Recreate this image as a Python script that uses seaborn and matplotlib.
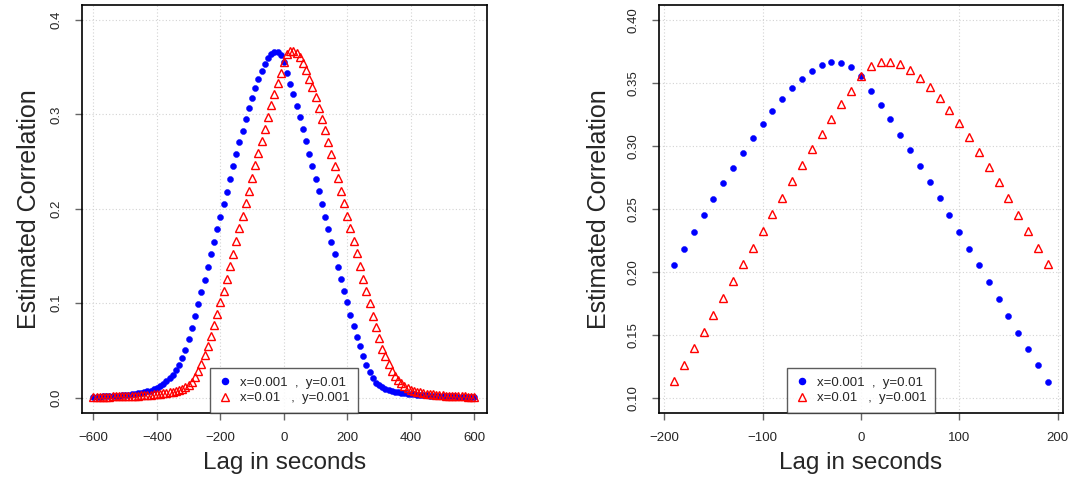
"""Estimated cross-correlation against lag, wide and zoomed views."""

import matplotlib

matplotlib.use("Agg")

import matplotlib.pyplot as plt
import numpy as np
import pandas as pd
import seaborn as sns
from matplotlib.lines import Line2D

# lag grid in seconds (step 10)
LAGS_WIDE = np.arange(-600, 601, 10)
LAGS_ZOOM = np.arange(-190, 191, 10)

# zoomed view, lag -190..190
BLUE_ZOOM = [
    0.2050, 0.2180, 0.2316, 0.2449, 0.2578, 0.2703, 0.2827, 0.2946, 0.3063, 0.3174,
    0.3277, 0.3373, 0.3460, 0.3534, 0.3598, 0.3640, 0.3664, 0.3661, 0.3627, 0.3555,
    0.3433, 0.3325, 0.3211, 0.3089, 0.2967, 0.2843, 0.2713, 0.2584, 0.2451, 0.2319,
    0.2184, 0.2051, 0.1916, 0.1784, 0.1649, 0.1517, 0.1387, 0.1257, 0.1127,
]
RED_ZOOM = [
    0.1133, 0.1260, 0.1392, 0.1524, 0.1657, 0.1792, 0.1924, 0.2059, 0.2192, 0.2324,
    0.2459, 0.2589, 0.2719, 0.2848, 0.2975, 0.3095, 0.3214, 0.3330, 0.3439, 0.3555,
    0.3635, 0.3667, 0.3667, 0.3648, 0.3603, 0.3539, 0.3465, 0.3378, 0.3285, 0.3179,
    0.3068, 0.2949, 0.2830, 0.2711, 0.2584, 0.2454, 0.2324, 0.2192, 0.2059,
]

# tails of the wide view, lag -600..-200 and 200..600
BLUE_LEFT_TAIL = [
    0.0010, 0.0011, 0.0012, 0.0013, 0.0015, 0.0016, 0.0018, 0.0020, 0.0022, 0.0025,
    0.0028, 0.0031, 0.0035, 0.0040, 0.0045, 0.0051, 0.0058, 0.0066, 0.0076, 0.0087,
    0.0099, 0.0120, 0.0145, 0.0174, 0.0205, 0.0244, 0.0290, 0.0350, 0.0424, 0.0509,
    0.0619, 0.0738, 0.0862, 0.0990, 0.1123, 0.1250, 0.1385, 0.1520, 0.1650, 0.1784,
    0.1917,
]
BLUE_RIGHT_TAIL = [
    0.1010, 0.0879, 0.0763, 0.0646, 0.0544, 0.0445, 0.0350, 0.0269, 0.0205, 0.0160,
    0.0130, 0.0110, 0.0095, 0.0083, 0.0073, 0.0065, 0.0058, 0.0052, 0.0047, 0.0042,
    0.0038, 0.0035, 0.0032, 0.0029, 0.0027, 0.0025, 0.0023, 0.0021, 0.0020, 0.0018,
    0.0017, 0.0016, 0.0015, 0.0014, 0.0013, 0.0012, 0.0012, 0.0011, 0.0010, 0.0010,
    0.0009,
]
RED_LEFT_TAIL = [
    0.0009, 0.0010, 0.0010, 0.0011, 0.0012, 0.0012, 0.0013, 0.0014, 0.0015, 0.0016,
    0.0017, 0.0018, 0.0020, 0.0021, 0.0023, 0.0025, 0.0027, 0.0029, 0.0032, 0.0035,
    0.0038, 0.0042, 0.0046, 0.0051, 0.0057, 0.0064, 0.0072, 0.0082, 0.0095, 0.0112,
    0.0135, 0.0170, 0.0219, 0.0283, 0.0360, 0.0449, 0.0548, 0.0653, 0.0767, 0.0887,
    0.1017,
]
RED_RIGHT_TAIL = [
    0.1925, 0.1794, 0.1657, 0.1530, 0.1395, 0.1260, 0.1133, 0.1000, 0.0869, 0.0746,
    0.0632, 0.0516, 0.0442, 0.0357, 0.0286, 0.0233, 0.0188, 0.0152, 0.0124, 0.0099,
    0.0082, 0.0072, 0.0063, 0.0056, 0.0049, 0.0043, 0.0038, 0.0034, 0.0030, 0.0027,
    0.0024, 0.0022, 0.0020, 0.0018, 0.0016, 0.0015, 0.0014, 0.0013, 0.0012, 0.0011,
    0.0010,
]

LEGEND_LABELS = ["x=0.001  ,  y=0.01", "x=0.01   ,  y=0.001"]

sns.set_theme(style="white")
plt.rcParams["font.family"] = ["Liberation Sans", "DejaVu Sans"]

wide = pd.DataFrame({
    "lag": LAGS_WIDE,
    "blue": BLUE_LEFT_TAIL + BLUE_ZOOM + BLUE_RIGHT_TAIL,
    "red": RED_LEFT_TAIL + RED_ZOOM + RED_RIGHT_TAIL,
})
zoom = pd.DataFrame({"lag": LAGS_ZOOM, "blue": BLUE_ZOOM, "red": RED_ZOOM})

fig = plt.figure(figsize=(10.74, 4.78), dpi=100)
ax_left = fig.add_axes([0.0761, 0.136, 0.377, 0.854])
ax_right = fig.add_axes([0.6133, 0.136, 0.3767, 0.854])


def draw_panel(ax, df, xlim, ylim, xticks, yticks, ytick_fmt, ylabel_x):
    ax.grid(True, color="#d3d3d3", linestyle=(0, (1, 2)), linewidth=0.8)
    ax.set_axisbelow(True)
    sns.lineplot(
        data=df, x="lag", y="blue", ax=ax, linestyle="none", marker="o",
        markersize=4.4, color="blue", markerfacecolor="blue",
        markeredgecolor="blue", markeredgewidth=0.3,
    )
    sns.lineplot(
        data=df, x="lag", y="red", ax=ax, linestyle="none", marker="^",
        markersize=6.2, color="red", markerfacecolor="none",
        markeredgecolor="red", markeredgewidth=1.0,
    )
    ax.set_xlim(*xlim)
    ax.set_ylim(*ylim)
    ax.set_xticks(xticks)
    ax.set_yticks(yticks)
    ax.set_yticklabels([ytick_fmt.format(v) for v in yticks])
    ax.tick_params(axis="both", which="major", direction="out", length=5,
                   width=1.0, color="#666666", labelsize=9.5, pad=9,
                   bottom=True, left=True)
    ax.tick_params(axis="y", labelrotation=90)
    for label in ax.get_yticklabels():
        label.set_verticalalignment("center")
    for spine in ax.spines.values():
        spine.set_color("black")
        spine.set_linewidth(1.2)

    ax.set_xlabel("Lag in seconds", fontsize=17.5)
    ax.xaxis.set_label_coords(0.5, -0.095)
    ax.set_ylabel("Estimated Correlation", fontsize=18, va="center")
    ax.yaxis.set_label_coords(ylabel_x, 0.5)

    handles = [
        Line2D([], [], linestyle="none", marker="o", markersize=4.4,
               color="blue"),
        Line2D([], [], linestyle="none", marker="^", markersize=6.2,
               markerfacecolor="none", markeredgecolor="red",
               markeredgewidth=1.0),
    ]
    legend = ax.legend(handles, LEGEND_LABELS, loc="lower center",
                       bbox_to_anchor=(0.5, 0.0), borderaxespad=0,
                       fontsize=9.5, frameon=True, fancybox=False,
                       handlelength=1.0, handletextpad=0.6,
                       labelspacing=0.25, borderpad=0.65)
    legend.get_frame().set_edgecolor("#333333")
    legend.get_frame().set_linewidth(1.0)


draw_panel(ax_left, wide, (-637, 639), (-0.0162, 0.416),
           [-600, -400, -200, 0, 200, 400, 600],
           [0.0, 0.1, 0.2, 0.3, 0.4], "{:.1f}", -0.13)
draw_panel(ax_right, zoom, (-205.7, 205.7), (0.0878, 0.412),
           [-200, -100, 0, 100, 200],
           [0.10, 0.15, 0.20, 0.25, 0.30, 0.35, 0.40], "{:.2f}", -0.148)

fig.savefig("out.png", dpi=100)
plt.close(fig)
